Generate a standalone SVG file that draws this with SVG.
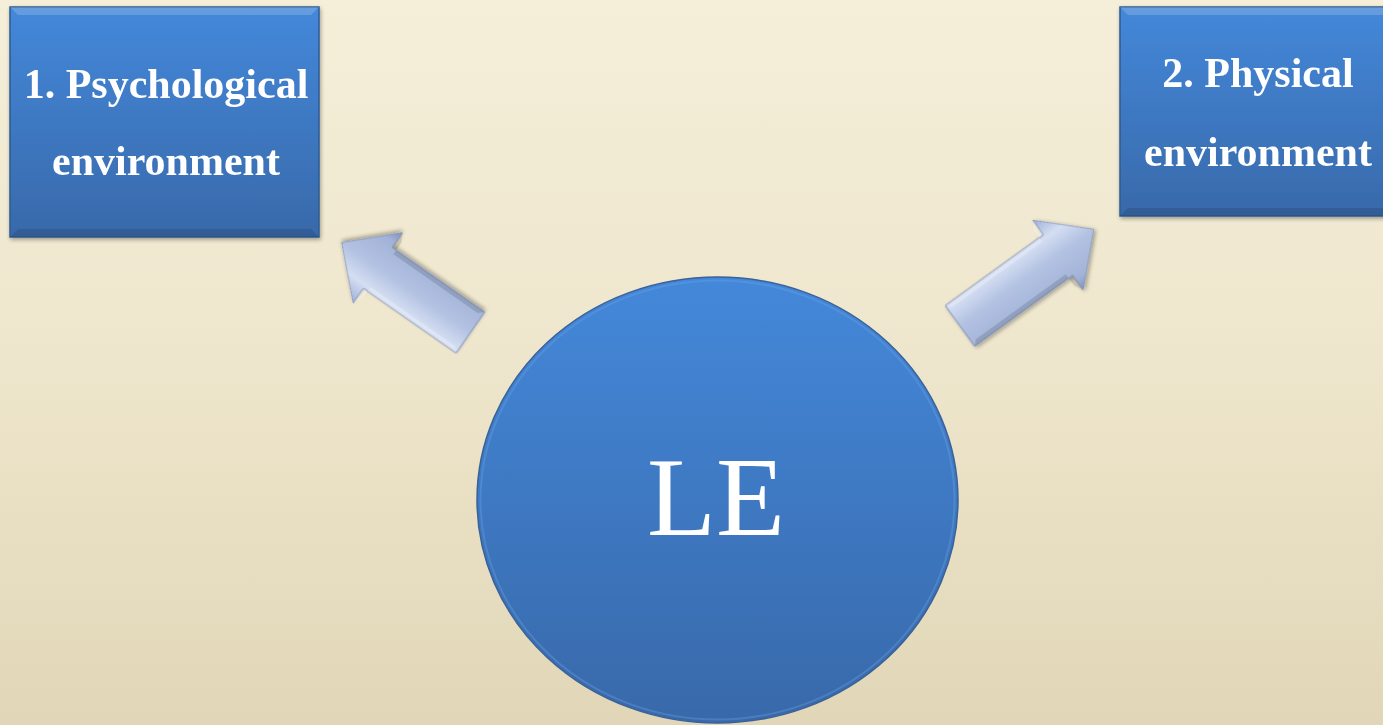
<svg xmlns="http://www.w3.org/2000/svg" width="1383" height="725" viewBox="0 0 1383 725">
  <defs>
    <linearGradient id="bg" x1="0" y1="0" x2="0" y2="1">
      <stop offset="0" stop-color="#f5eed9"/>
      <stop offset="0.5" stop-color="#eee6cc"/>
      <stop offset="1" stop-color="#e1d6b7"/>
    </linearGradient>
    <linearGradient id="blue" x1="0" y1="0" x2="0" y2="1">
      <stop offset="0" stop-color="#4488da"/>
      <stop offset="1" stop-color="#3869aa"/>
    </linearGradient>
    <linearGradient id="arrowFill" x1="0" y1="0" x2="0" y2="1">
      <stop offset="0" stop-color="#9fb0d6"/>
      <stop offset="0.25" stop-color="#d4def2"/>
      <stop offset="0.5" stop-color="#b3c2e2"/>
      <stop offset="0.85" stop-color="#a2b3d8"/>
      <stop offset="1" stop-color="#7f92bc"/>
    </linearGradient>
    <filter id="shadow" x="-10%" y="-10%" width="120%" height="120%">
      <feGaussianBlur in="SourceAlpha" stdDeviation="2"/>
      <feOffset dx="1" dy="2" result="b"/>
      <feComponentTransfer><feFuncA type="linear" slope="0.35"/></feComponentTransfer>
      <feMerge><feMergeNode/><feMergeNode in="SourceGraphic"/></feMerge>
    </filter>
    <path id="arrowL" d="M0,-25 L113,-25 L113,-43 L157,0 L113,43 L113,25 L0,25 Z"/>
    <path id="arrowR" d="M0,-25 L121,-25 L121,-43 L165,0 L121,43 L121,25 L0,25 Z"/>
  </defs>
  <style>
    .box { fill: url(#blue); stroke: #2f5b93; stroke-width: 1.5; }
    .hl { fill: #ffffff; opacity: 0.18; }
    .dk { fill: #000000; opacity: 0.12; }
    .label { font-family: "Liberation Serif", "Times New Roman", serif; font-weight: bold; font-size: 42px; fill: #ffffff; text-anchor: middle; }
    .le { font-family: "Liberation Serif", "Times New Roman", serif; font-size: 113px; fill: #ffffff; text-anchor: middle; }
    .arrow { fill: url(#arrowFill); stroke: #8394bd; stroke-width: 1; }
  </style>

  <rect x="0" y="0" width="1383" height="725" fill="url(#bg)"/>

  <g id="connectors">
    <g id="arrow-to-psych" transform="translate(470.5,332.5) rotate(-145.1)" filter="url(#shadow)">
      <use href="#arrowL" class="arrow"/>
      <path d="M0,-25 L5,-20 L108,-20 L108,-34 L113,-43 L113,-25 Z" fill="#ffffff" opacity="0.25"/>
      <path d="M0,25 L5,20 L108,20 L108,34 L113,43 L113,25 Z" fill="#000000" opacity="0.12"/>
    </g>
    <g id="arrow-to-phys" transform="translate(960,326) rotate(-35.9)" filter="url(#shadow)">
      <use href="#arrowR" class="arrow"/>
      <path d="M0,-25 L5,-20 L116,-20 L116,-34 L121,-43 L121,-25 Z" fill="#ffffff" opacity="0.25"/>
      <path d="M0,25 L5,20 L116,20 L116,34 L121,43 L121,25 Z" fill="#000000" opacity="0.12"/>
    </g>
  </g>

  <g id="node-psych" filter="url(#shadow)">
    <rect class="box" x="10" y="7" width="309" height="230"/>
    <path class="hl" d="M10,7 L319,7 L311,15 L18,15 Z"/>
    <path class="dk" d="M10,237 L319,237 L311,229 L18,229 Z"/>
    <text class="label" x="166" y="98">1. Psychological</text>
    <text class="label" x="166" y="175">environment</text>
  </g>

  <g id="node-phys" filter="url(#shadow)">
    <rect class="box" x="1120" y="7" width="276" height="209"/>
    <path class="hl" d="M1120,7 L1396,7 L1388,15 L1128,15 Z"/>
    <path class="dk" d="M1120,216 L1396,216 L1388,208 L1128,208 Z"/>
    <text class="label" x="1258" y="87">2. Physical</text>
    <text class="label" x="1258" y="166">environment</text>
  </g>

  <g id="node-le">
    <ellipse cx="717.5" cy="500" rx="240.5" ry="223" fill="url(#blue)" stroke="#3a6299" stroke-width="1.5"/>
    <ellipse cx="717.5" cy="500" rx="237" ry="219.5" fill="none" stroke="#6ea3e6" stroke-width="2" opacity="0.35"/>
    <text class="le" x="716" y="535">LE</text>
  </g>
</svg>
